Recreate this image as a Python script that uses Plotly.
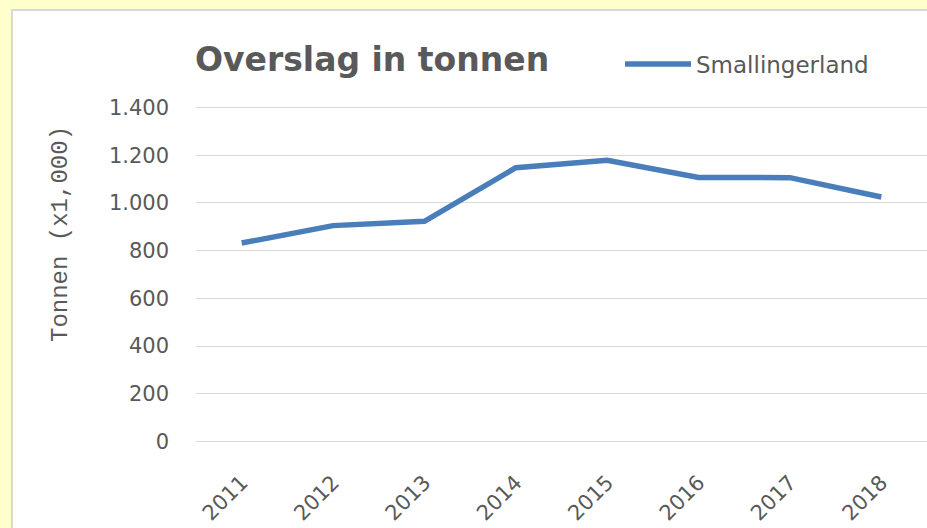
import plotly.graph_objects as go

years = ["2011", "2012", "2013", "2014", "2015", "2016", "2017", "2018"]
overslag = [832, 905, 923, 1148, 1179, 1107, 1106, 1025]
series_name = "Smallingerland"
tick_vals = [0, 200, 400, 600, 800, 1000, 1200, 1400]
tick_labels = ["0", "200", "400", "600", "800", "1.000", "1.200", "1.400"]
title_text = "Overslag in tonnen"
y_title = "Tonnen (x1,000)"

W, H = 927, 528
ML, MR, MT, MB = 196, 0, 104, 83
PW, PH = W - ML - MR, H - MT - MB

def px(x):
    return (x - ML) / PW

def py(y):
    return (H - MB - y) / PH

grey = "#595959"
font = "DejaVu Sans"

fig = go.Figure()
fig.add_trace(go.Scatter(
    x=years, y=overslag, mode="lines", name=series_name,
    line=dict(color="#4A7EBB", width=5.5),
))

fig.update_layout(
    width=W, height=H,
    margin=dict(l=ML, r=MR, t=MT, b=MB),
    paper_bgcolor="#FFFFCC",
    plot_bgcolor="white",
    showlegend=True,
    legend=dict(
        orientation="h", x=px(620), y=py(64), xanchor="left", yanchor="middle",
        font=dict(family=font, size=23, color=grey), itemwidth=66,
        bgcolor="rgba(0,0,0,0)",
    ),
    xaxis=dict(
        type="category", range=[-0.5, 7.5], showgrid=False, showline=False,
        ticks="", tickangle=-45, ticklabelstandoff=20,
        tickfont=dict(family=font, size=21, color=grey),
    ),
    yaxis=dict(
        range=[-15, 1415], tickvals=tick_vals, ticktext=tick_labels,
        showgrid=True, gridcolor="#D9D9D9", gridwidth=1, zeroline=False,
        showline=False, ticks="", ticklabelstandoff=26,
        tickfont=dict(family=font, size=21, color=grey),
    ),
    shapes=[
        dict(type="rect", xref="paper", yref="paper",
             x0=px(12), x1=px(W + 5), y0=py(H + 5), y1=py(10),
             fillcolor="white", line=dict(color="#D9D9D9", width=2), layer="below"),
    ],
    annotations=[
        dict(text="<b>" + title_text + "</b>", xref="paper", yref="paper",
             x=px(193), y=py(60), xanchor="left", yanchor="middle", showarrow=False,
             font=dict(family=font, size=33, color=grey)),
        dict(text=y_title, xref="paper", yref="paper", textangle=-90,
             x=px(60), y=py(234), xanchor="center", yanchor="middle", showarrow=False,
             font=dict(family="Liberation Mono", size=24, color=grey)),
    ],
)

fig.write_html("out.html", config={"displayModeBar": False},
               post_script="document.body.style.margin='0';")
